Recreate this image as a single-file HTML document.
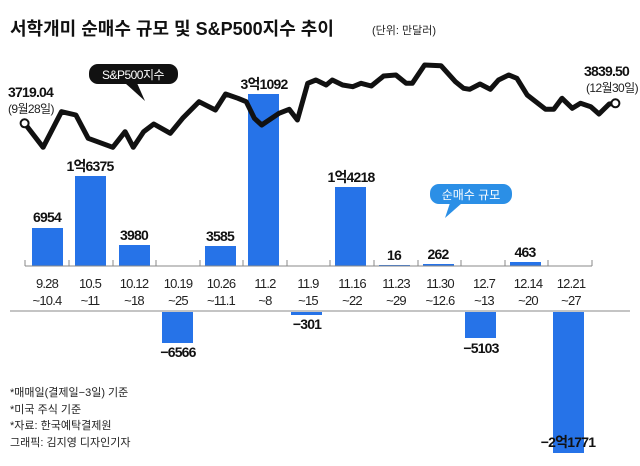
<!DOCTYPE html>
<html><head><meta charset="utf-8"><style>
body{margin:0;background:#fff;}
svg text{font-family:"Liberation Sans","Noto Sans CJK KR",sans-serif;}
</style></head><body>
<svg width="640" height="461" viewBox="0 0 640 461" xmlns="http://www.w3.org/2000/svg">
<text x="10" y="35" font-size="18" font-weight="bold" fill="#111">서학개미 순매수 규모 및 S&amp;P500지수 추이</text>
<text x="372" y="34" font-size="11" fill="#222">(단위: 만달러)</text>
<g fill="#2673e8">
<rect x="32" y="228" width="31" height="38"/>
<rect x="75" y="176" width="31" height="90"/>
<rect x="119" y="245" width="31" height="21"/>
<rect x="205" y="246" width="31" height="20"/>
<rect x="248" y="94" width="31" height="172"/>
<rect x="335" y="187" width="31" height="79"/>
<rect x="379" y="265" width="31" height="1"/>
<rect x="423" y="264" width="31" height="2"/>
<rect x="510" y="262" width="31" height="4"/>
<rect x="162" y="312" width="31" height="31"/>
<rect x="291" y="312" width="31" height="3"/>
<rect x="465" y="312" width="31" height="26"/>
<rect x="553" y="312" width="31" height="141"/>
</g>
<line x1="25" y1="266" x2="592" y2="266" stroke="#888" stroke-width="1"/>
<line x1="10" y1="311" x2="630" y2="311" stroke="#888" stroke-width="1"/>
<g stroke="#888"><line x1="25" y1="260" x2="25" y2="266"/><line x1="69" y1="260" x2="69" y2="266"/><line x1="113" y1="260" x2="113" y2="266"/><line x1="156" y1="260" x2="156" y2="266"/><line x1="200" y1="260" x2="200" y2="266"/><line x1="243" y1="260" x2="243" y2="266"/><line x1="287" y1="260" x2="287" y2="266"/><line x1="330" y1="260" x2="330" y2="266"/><line x1="374" y1="260" x2="374" y2="266"/><line x1="418" y1="260" x2="418" y2="266"/><line x1="461" y1="260" x2="461" y2="266"/><line x1="505" y1="260" x2="505" y2="266"/><line x1="548" y1="260" x2="548" y2="266"/><line x1="592" y1="260" x2="592" y2="266"/></g>
<g font-size="14" font-weight="bold" fill="#111" text-anchor="middle" letter-spacing="-0.8">
<text x="47" y="222">6954</text>
<text x="90" y="171">1억6375</text>
<text x="134" y="240">3980</text>
<text x="220" y="241">3585</text>
<text x="264" y="89">3억1092</text>
<text x="351" y="182">1억4218</text>
<text x="394" y="260">16</text>
<text x="438" y="259">262</text>
<text x="525" y="257">463</text>
<text x="178" y="357">−6566</text>
<text x="307" y="329">−301</text>
<text x="481" y="353">−5103</text>
<text x="568" y="447">−2억1771</text>
</g>
<g font-size="13" fill="#222" text-anchor="middle" letter-spacing="-0.8">
<text x="47" y="288">9.28</text><text x="47" y="305">~10.4</text>
<text x="90" y="288">10.5</text><text x="90" y="305">~11</text>
<text x="134" y="288">10.12</text><text x="134" y="305">~18</text>
<text x="178" y="288">10.19</text><text x="178" y="305">~25</text>
<text x="221" y="288">10.26</text><text x="221" y="305">~11.1</text>
<text x="265" y="288">11.2</text><text x="265" y="305">~8</text>
<text x="308" y="288">11.9</text><text x="308" y="305">~15</text>
<text x="352" y="288">11.16</text><text x="352" y="305">~22</text>
<text x="396" y="288">11.23</text><text x="396" y="305">~29</text>
<text x="440" y="288">11.30</text><text x="440" y="305">~12.6</text>
<text x="484" y="288">12.7</text><text x="484" y="305">~13</text>
<text x="528" y="288">12.14</text><text x="528" y="305">~20</text>
<text x="571" y="288">12.21</text><text x="571" y="305">~27</text>
</g>
<polyline fill="none" stroke="#111" stroke-width="5" stroke-linejoin="round" points="24.6,123.3 43.1,147.3 61.5,111.7 75.9,115 88.2,138.3 112.8,147.3 125.1,131.7 133.3,147.3 143.6,131.7 153.8,124 170.3,133.3 182.6,118.3 199,101.7 215.4,110 225.6,94 238,98.3 246.2,101.7 254.4,118.3 261.7,125 279,113.3 289.2,109.3 297.4,120 307.7,83.3 315.9,80 326.2,85 332.3,80 342.6,85 352.8,86.7 361,83.3 371.3,86 383.6,76 395.9,75 406.2,83.3 412.3,83.3 424.6,65 441,65.7 455.4,81.7 463.6,88.3 469.7,89.3 480,84 490.3,89.3 498.5,80 508.7,75 516.9,78.3 527.2,95 545.6,109.3 553.8,109.3 562,98.3 572.3,108.3 580.5,103.3 590.8,106.7 599,114 609.2,104 615.4,103.3"/>
<circle cx="24.6" cy="123.3" r="4" fill="#fff" stroke="#111" stroke-width="2"/>
<circle cx="615.4" cy="103.3" r="4" fill="#fff" stroke="#111" stroke-width="2"/>
<text x="8" y="97" font-size="14" font-weight="bold" fill="#111" letter-spacing="-0.8">3719.04</text>
<text x="8" y="113" font-size="12" fill="#222" letter-spacing="-0.6">(9월28일)</text>
<text x="584" y="76" font-size="14" font-weight="bold" fill="#111" letter-spacing="-0.8">3839.50</text>
<text x="586" y="92" font-size="12" fill="#222" letter-spacing="-0.6">(12월30일)</text>
<rect x="89" y="64" width="89" height="20" rx="9" fill="#111"/>
<polygon points="125,83 137,83 145,101" fill="#111"/>
<text x="133" y="79" font-size="12" fill="#fff" text-anchor="middle" letter-spacing="-0.5">S&amp;P500지수</text>
<rect x="430" y="184" width="82" height="20" rx="9" fill="#2b8fe6"/>
<polygon points="450,203 462,203 445,218" fill="#2b8fe6"/>
<text x="471" y="199" font-size="12" fill="#fff" text-anchor="middle">순매수 규모</text>
<g font-size="11" fill="#222">
<text x="10" y="396">*매매일(결제일−3일) 기준</text>
<text x="10" y="413">*미국 주식 기준</text>
<text x="10" y="429">*자료: 한국예탁결제원</text>
<text x="10" y="446">그래픽: 김지영 디자인기자</text>
</g>
</svg>
</body></html>
